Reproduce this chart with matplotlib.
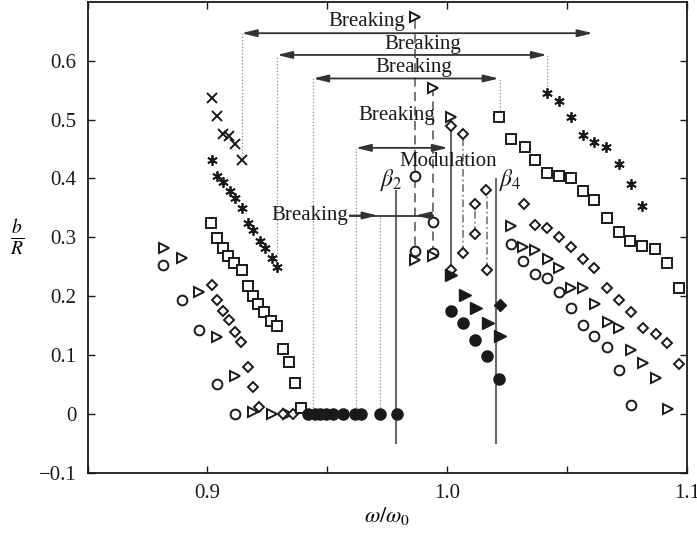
import numpy as np
import matplotlib.pyplot as plt
from matplotlib.ticker import FixedLocator, FixedFormatter

plt.rcParams['font.family'] = ['Liberation Serif', 'DejaVu Serif']
plt.rcParams['mathtext.fontset'] = 'stix'

# open circles
circ_x = [0.8816, 0.8892, 0.8966, 0.9038, 0.9114,
          0.9864, 0.9941, 0.9864, 0.9941,
          1.0267, 1.0315, 1.0368, 1.0416, 1.0465, 1.0517, 1.0568, 1.0614, 1.0665, 1.0718, 1.0767]
circ_y = [0.252, 0.193, 0.1425, 0.051, 0.0,
          0.405, 0.326, 0.276, 0.273,
          0.288, 0.259, 0.238, 0.231, 0.207, 0.180, 0.150, 0.132, 0.114, 0.075, 0.015]

# open triangles
tri_x = [0.8818, 0.8892, 0.8965, 0.904, 0.9114, 0.919, 0.9267, 0.9336,
         0.9867, 0.9941, 1.0017, 0.9864, 0.9941,
         1.0267, 1.0315, 1.0364, 1.042, 1.0468, 1.0517, 1.0568, 1.0618, 1.067, 1.0718,
         1.0767, 1.0818, 1.0871, 1.092]
tri_y = [0.2815, 0.265, 0.207, 0.131, 0.064, 0.003, 0.0, 0.0,
         0.674, 0.5535, 0.505, 0.261, 0.268,
         0.319, 0.284, 0.278, 0.2635, 0.248, 0.214, 0.214, 0.186, 0.156, 0.146,
         0.109, 0.086, 0.060, 0.008]

# open diamonds
dia_x = [0.9017, 0.9038, 0.9063, 0.909, 0.9114, 0.9139, 0.9167, 0.9188, 0.9216, 0.9315, 0.9357,
         1.0017, 1.0066, 1.0163, 1.0114, 1.0114, 1.0066, 1.0167, 1.0017,
         1.0318, 1.0368, 1.0416, 1.0465, 1.0517, 1.0566, 1.0614, 1.0665, 1.0718, 1.0767,
         1.0815, 1.0871, 1.0915, 1.0965]
dia_y = [0.218, 0.194, 0.1745, 0.159, 0.139, 0.122, 0.079, 0.045, 0.011, 0.0, 0.0,
         0.49, 0.476, 0.381, 0.357, 0.305, 0.273, 0.245, 0.245,
         0.356, 0.321, 0.315, 0.300, 0.284, 0.263, 0.248, 0.214, 0.194, 0.173,
         0.146, 0.135, 0.121, 0.084]

# open squares
sq_x = [0.9014, 0.9038, 0.9063, 0.9086, 0.911, 0.9142, 0.9167, 0.9188, 0.9211, 0.9236, 0.9264,
        0.929, 0.9315, 0.934, 0.9364, 0.9388,
        1.0215, 1.0267, 1.0323, 1.0368, 1.0416, 1.0465, 1.0517, 1.0568, 1.0614, 1.0665,
        1.0718, 1.0764, 1.0813, 1.0868, 1.0915, 1.0965]
sq_y = [0.324, 0.2985, 0.2815, 0.2686, 0.257, 0.245, 0.2167, 0.20, 0.186, 0.173, 0.1577,
        0.149, 0.11, 0.088, 0.053, 0.01,
        0.505, 0.467, 0.453, 0.431, 0.41, 0.405, 0.40, 0.379, 0.364, 0.332,
        0.309, 0.293, 0.285, 0.28, 0.256, 0.214]

# asterisks
ast_x = [0.9017, 0.9038, 0.9065, 0.9093, 0.9114, 0.9142, 0.9167, 0.919, 0.9218, 0.9239, 0.9267, 0.929,
         1.0416, 1.0465, 1.0517, 1.0568, 1.0614, 1.0663, 1.0718, 1.0767, 1.0813]
ast_y = [0.431, 0.405, 0.394, 0.379, 0.366, 0.349, 0.325, 0.312, 0.293, 0.282, 0.265, 0.25,
         0.546, 0.532, 0.504, 0.474, 0.462, 0.453, 0.425, 0.391, 0.353]

# crosses
crs_x = [0.9017, 0.9038, 0.9065, 0.9089, 0.9114, 0.9142]
crs_y = [0.537, 0.507, 0.475, 0.473, 0.459, 0.432]

# filled circles
fcirc_x = [0.942, 0.9448, 0.9468, 0.9496, 0.9524, 0.9565, 0.9614, 0.9642, 0.9718, 0.979,
           1.0017, 1.0066, 1.0117, 1.0167, 1.0215]
fcirc_y = [0.0, 0.0, 0.0, 0.0, 0.0, 0.0, 0.0, 0.0, 0.0, 0.0,
           0.1745, 0.155, 0.1255, 0.0975, 0.059]

# filled triangles / diamond
ftri_x = [1.0017, 1.0072, 1.0121, 1.017, 1.0221]
ftri_y = [0.236, 0.201, 0.180, 0.155, 0.132]
fdia_x = [1.0218]
fdia_y = [0.184]

# "Breaking" ranges (double arrows) and guide lines
brk_y = [0.647, 0.61, 0.57, 0.452]
brk_lo = [0.9142, 0.929, 0.944, 0.9618]
brk_hi = [1.0607, 1.0416, 1.0215, 1.0003]
brk_text_x = [0.9666, 0.9899, 0.9861, 0.9788]
brk_text_y = [0.667, 0.628, 0.5895, 0.507]

dot_x = [0.9142, 0.929, 0.944, 0.9618, 0.9718, 1.0416, 1.0218]
dot_lo = [0.432, 0.25, 0.0, 0.0, 0.0, 0.546, 0.505]
dot_hi = [0.647, 0.61, 0.57, 0.452, 0.337, 0.61, 0.57]

dash_x = [0.9867, 0.9941]
dash_lo = [0.262, 0.27]
dash_hi = [0.674, 0.5535]
dd_x = [1.0066, 1.0114, 1.0167]
dd_lo = [0.273, 0.305, 0.245]
dd_hi = [0.476, 0.357, 0.381]
solid_x = [1.0017]
solid_lo = [0.24]
solid_hi = [0.505]

beta_x = [0.9788, 1.0202]
beta_lo = [-0.051, -0.051]
beta_hi = [0.38, 0.40]
beta_lab = [r'$\beta_2$', r'$\beta_4$']
beta_lab_x = [0.9767, 1.0262]

# lone breaking arrow near beta2
lone_y = 0.337
lone_text_x = 0.9427
lone_x = [0.9593, 0.971, 0.9867, 0.9941]

fig = plt.figure(figsize=(6.97, 5.33), dpi=100)
ax = fig.add_axes([0.1257, 0.1135, 0.86, 0.8827])

k = '#1a1a1a'
g = '#6a6a6a'

ax.vlines(dot_x, dot_lo, dot_hi, colors='#8a8a8a', linestyles=':', lw=0.9)
ax.vlines(dash_x, dash_lo, dash_hi, colors=g, linestyles=(0, (5, 3)), lw=1.3)
ax.vlines(dd_x, dd_lo, dd_hi, colors=g, linestyles=(0, (5, 2, 1, 2)), lw=1.1)
ax.vlines(solid_x, solid_lo, solid_hi, colors=g, lw=1.5)
ax.vlines(beta_x, beta_lo, beta_hi, colors=g, lw=1.5)

for y, a, b, tx, ty in zip(brk_y, brk_lo, brk_hi, brk_text_x, brk_text_y):
    ax.annotate('', xy=(b, y), xytext=(a, y),
                arrowprops=dict(arrowstyle='<|-|>,head_length=0.9,head_width=0.22',
                                color='#333333', lw=1.3, shrinkA=0, shrinkB=0))
    ax.text(tx, ty, 'Breaking', ha='center', va='center', fontsize=15, color=k)

ax.text(lone_text_x, lone_y, 'Breaking', ha='center', va='center', fontsize=15, color=k)
ax.plot([lone_x[0], lone_x[3]], [lone_y, lone_y], color='#333333', lw=1.3)
ax.annotate('', xy=(lone_x[1], lone_y), xytext=(lone_x[0], lone_y),
            arrowprops=dict(arrowstyle='-|>,head_length=0.9,head_width=0.22',
                            color='#333333', lw=1.3, shrinkA=0, shrinkB=0))
ax.annotate('', xy=(lone_x[2], lone_y), xytext=(lone_x[3], lone_y),
            arrowprops=dict(arrowstyle='-|>,head_length=0.9,head_width=0.22',
                            color='#333333', lw=1.3, shrinkA=0, shrinkB=0))

ax.text(1.0005, 0.428, 'Modulation', ha='center', va='center', fontsize=15, color=k)
for lx, lab in zip(beta_lab_x, beta_lab):
    ax.text(lx, 0.397, lab, ha='center', va='center', fontsize=17, color=k)

mk = dict(ls='none', color=k, mfc='white', mew=1.4)
ax.plot(circ_x, circ_y, marker='o', ms=7, **mk)
ax.plot(tri_x, tri_y, marker='>', ms=7.5, **mk)
ax.plot(dia_x, dia_y, marker='D', ms=5.5, **mk)
ax.plot(sq_x, sq_y, marker='s', ms=6.5, **mk)
ax.plot(ast_x, ast_y, marker=(6, 2, 0), ms=7.5, ls='none', color=k, mew=1.3)
ax.plot(crs_x, crs_y, marker='x', ms=6.5, ls='none', color=k, mew=1.4)
ax.plot(fcirc_x, fcirc_y, marker='o', ms=8, ls='none', color=k)
ax.plot(ftri_x, ftri_y, marker='>', ms=8, ls='none', color=k)
ax.plot(fdia_x, fdia_y, marker='D', ms=6.5, ls='none', color=k)

ax.set_xlim(0.85, 1.1)
ax.set_ylim(-0.1, 0.7)

xt = [0.85, 0.9, 0.95, 1.0, 1.05, 1.1]
xl = ['', '0.9', '', '1.0', '', '1.1']
ax.xaxis.set_major_locator(FixedLocator(xt))
ax.xaxis.set_major_formatter(FixedFormatter(xl))
yt = [-0.1, 0.0, 0.1, 0.2, 0.3, 0.4, 0.5, 0.6]
yl = ['\u22120.1', '0', '0.1', '0.2', '0.3', '0.4', '0.5', '0.6']
ax.yaxis.set_major_locator(FixedLocator(yt))
ax.yaxis.set_major_formatter(FixedFormatter(yl))
ax.tick_params(direction='in', top=True, right=True, length=5, width=1,
               labelsize=15, pad=8, colors=k)
for s in ax.spines.values():
    s.set_linewidth(1.3)
    s.set_color(k)

ax.set_xlabel(r'$\omega/\omega_0$', fontsize=16, labelpad=2)
ax.set_ylabel(r'$\frac{b}{R}$', fontsize=20, rotation=0, va='center')
ax.yaxis.set_label_coords(-0.118, 0.5)

fig.savefig('out.png', dpi=100)
